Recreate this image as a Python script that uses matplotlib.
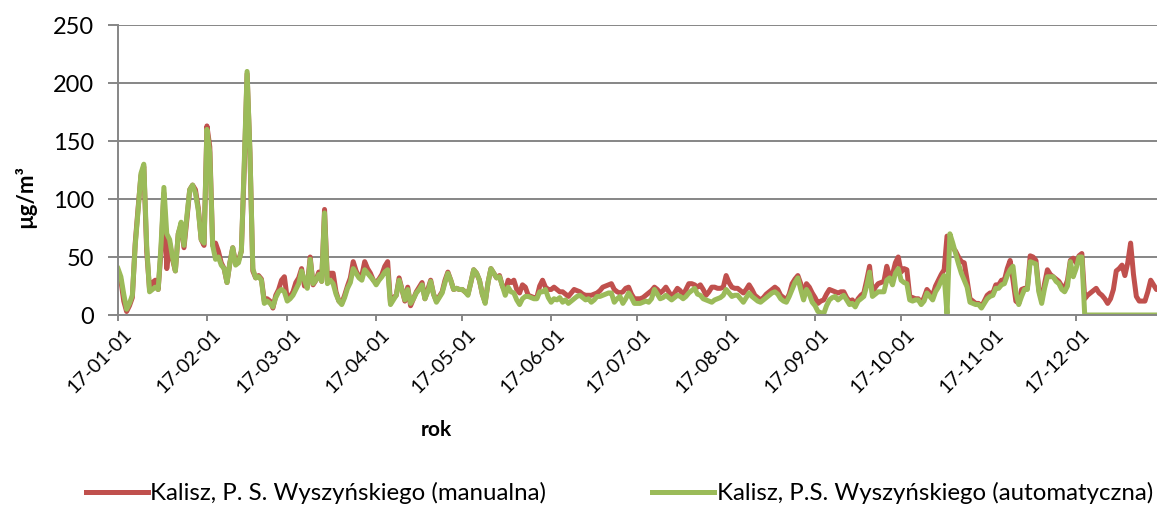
import numpy as np
import pandas as pd
import matplotlib
matplotlib.use("Agg")
import matplotlib.pyplot as plt
import matplotlib.dates as mdates
import matplotlib.transforms as mtransforms

plt.rcParams['font.family'] = ['Lato', 'DejaVu Sans']

# daily values, 2017
manualna = [
    # Jan
    38, 30, 12, 3, 8, 15, 62, 92, 120, 128, 55, 22, 28, 30, 22, 55, 105, 40, 62, 48,
    38, 70, 78, 58, 82, 108, 112, 108, 92, 65, 60,
    # Feb
    163, 145, 60, 62, 55, 45, 40, 28, 45, 58, 45, 47, 55, 125, 208, 140, 38, 32, 34, 31,
    12, 14, 12, 6, 17, 22, 30, 33,
    # Mar
    14, 16, 20, 28, 32, 40, 25, 25, 50, 26, 30, 37, 29, 91, 30, 36, 36, 20, 12, 10,
    17, 25, 32, 46, 38, 33, 34, 46, 40, 36, 30,
    # Apr
    28, 31, 35, 42, 46, 10, 15, 17, 32, 22, 12, 24, 8, 14, 20, 24, 28, 14, 22, 30,
    18, 12, 16, 20, 30, 37, 30, 22, 23, 22,
    # May
    22, 20, 18, 28, 39, 36, 30, 18, 11, 28, 40, 36, 32, 34, 25, 20, 30, 28, 30, 22,
    19, 26, 24, 17, 16, 15, 15, 25, 30, 24, 22,
    # Jun
    22, 24, 22, 20, 20, 18, 16, 19, 22, 21, 20, 18, 17, 17, 17, 18, 19, 21, 24, 25,
    26, 27, 22, 20, 19, 20, 23, 24, 18, 14,
    # Jul
    14, 14, 15, 17, 19, 21, 24, 22, 19, 21, 24, 20, 16, 19, 23, 21, 17, 22, 27, 27,
    26, 24, 26, 22, 17, 20, 24, 24, 23, 23, 24,
    # Aug
    34, 28, 24, 23, 23, 21, 19, 22, 26, 22, 17, 15, 13, 15, 18, 20, 22, 24, 22, 17,
    15, 13, 18, 27, 31, 34, 27, 17, 27, 24, 19,
    # Sep
    15, 10, 12, 13, 18, 22, 21, 20, 19, 20, 20, 15, 12, 13, 9, 14, 17, 19, 30, 42,
    19, 24, 27, 28, 29, 42, 33, 35, 45, 50,
    # Oct
    37, 40, 39, 16, 15, 14, 14, 10, 15, 22, 19, 17, 25, 30, 35, 39, 68, 66, 58, 55,
    50, 46, 45, 30, 14, 12, 10, 10, 7, 12, 17,
    # Nov
    19, 19, 26, 26, 30, 30, 40, 47, 30, 12, 10, 22, 23, 23, 51, 50, 47, 22, 13, 27,
    39, 35, 33, 31, 29, 25, 23, 30, 47, 49,
    # Dec
    45, 51, 53, 14, 17, 19, 21, 23, 19, 17, 14, 10, 14, 22, 38, 40, 43, 34, 45, 62,
    35, 16, 12, 12, 12, 20, 30, 26, 22, 22, 22,
]

automatyczna = [
    # Jan
    40, 33, 18, 5, 10, 17, 60, 90, 122, 130, 60, 20, 22, 24, 22, 60, 110, 70, 65, 50,
    38, 70, 80, 60, 85, 108, 112, 105, 90, 65, 62,
    # Feb
    160, 140, 60, 48, 50, 43, 40, 28, 45, 58, 43, 45, 55, 130, 210, 140, 40, 32, 33, 30,
    10, 12, 10, 7, 15, 20, 22, 20,
    # Mar
    12, 14, 17, 22, 27, 38, 30, 23, 48, 27, 30, 35, 29, 88, 27, 30, 27, 18, 12, 9,
    15, 23, 28, 40, 36, 32, 30, 39, 36, 33, 30,
    # Apr
    26, 30, 33, 37, 39, 9, 13, 17, 30, 22, 13, 22, 10, 14, 19, 22, 26, 14, 20, 29,
    18, 11, 15, 19, 28, 36, 30, 22, 23, 22,
    # May
    22, 20, 17, 28, 39, 36, 30, 18, 10, 28, 40, 36, 32, 33, 25, 17, 24, 20, 19, 13,
    9, 14, 16, 16, 15, 14, 14, 20, 20, 22, 15,
    # Jun
    11, 14, 13, 15, 11, 13, 10, 12, 14, 16, 17, 15, 13, 14, 11, 13, 16, 16, 17, 18,
    19, 19, 11, 14, 16, 10, 14, 19, 15, 10,
    # Jul
    10, 10, 11, 12, 11, 14, 22, 18, 14, 15, 17, 15, 13, 15, 17, 16, 14, 16, 19, 21,
    23, 18, 17, 14, 13, 12, 11, 13, 14, 15, 17,
    # Aug
    22, 19, 16, 17, 17, 14, 11, 15, 19, 16, 14, 12, 11, 13, 15, 17, 19, 20, 18, 14,
    12, 11, 16, 22, 28, 32, 22, 13, 22, 18, 11,
    # Sep
    8, 3, 2, 1, 8, 13, 15, 16, 13, 15, 17, 13, 9, 10, 7, 12, 14, 16, 25, 37,
    16, 18, 20, 20, 20, 30, 32, 26, 36, 40,
    # Oct
    30, 28, 27, 13, 12, 13, 13, 9, 12, 19, 16, 13, 20, 24, 30, 34, 1, 70, 62, 53,
    44, 36, 30, 24, 11, 10, 9, 9, 6, 10, 14,
    # Nov
    16, 17, 23, 23, 26, 27, 34, 39, 42, 20, 9, 16, 22, 22, 46, 45, 44, 20, 10, 23,
    33, 33, 33, 29, 27, 22, 20, 25, 46, 33,
    # Dec
    40, 50, 50, 0, 0, 0, 0, 0, 0, 0, 0, 0, 0, 0, 0, 0, 0, 0, 0, 0,
    0, 0, 0, 0, 0, 0, 0, 0, 0, 0, 0,
]

dates = pd.date_range("2017-01-01", periods=len(manualna), freq="D")
month_starts = pd.date_range("2017-01-01", "2017-12-01", freq="MS")

RED = "#C0504D"
GREEN = "#9BBB59"
GRID = "#868686"

W, H = 1157, 508
fig = plt.figure(figsize=(W / 100, H / 100), dpi=100)
ax = fig.add_axes([118 / W, 1 - 315 / H, 1 - 118 / W, 290 / H])

ax.plot(dates, manualna, color=RED, lw=3.6, solid_joinstyle="round",
        label="Kalisz, P. S. Wyszyńskiego (manualna)")
ax.plot(dates, automatyczna, color=GREEN, lw=3.6, solid_joinstyle="round",
        label="Kalisz, P.S. Wyszyńskiego (automatyczna)")

ax.set_ylim(0, 250)
ax.set_yticks(range(0, 251, 50))
ax.set_xlim(dates[0], dates[0] + pd.Timedelta(days=362.2))
ax.set_xticks(month_starts)
ax.xaxis.set_major_formatter(mdates.DateFormatter("%y-%m-%d"))

ax.grid(axis="y", color=GRID, lw=1.4)
ax.set_axisbelow(True)
for s in ["top", "right"]:
    ax.spines[s].set_visible(False)
for s in ["left", "bottom"]:
    ax.spines[s].set_color(GRID)
    ax.spines[s].set_linewidth(1.4)

ax.tick_params(axis="y", length=7, width=1.4, color=GRID, labelsize=17, pad=10)
ax.tick_params(axis="x", length=4.5, width=1.4, color=GRID, labelsize=14, pad=3)
shift = mtransforms.ScaledTranslation(5 / 100, 0, fig.dpi_scale_trans)
for lab in ax.get_xticklabels():
    lab.set_rotation(45)
    lab.set_ha("right")
    lab.set_rotation_mode("anchor")
    lab.set_transform(lab.get_transform() + shift)

ax.set_ylabel("µg/m³", fontsize=16, fontweight="bold")
ax.yaxis.set_label_coords((25 - 118) / 1039, (315 - 197) / 290)
ax.yaxis.label.set_va("center")
ax.set_xlabel("rok", fontsize=15, fontweight="bold")
ax.xaxis.set_label_coords((436 - 118) / 1039, (315 - 430) / 290)
ax.xaxis.label.set_va("center")

fig.legend(loc="center left", bbox_to_anchor=(86 / W, 1 - 493 / H), ncol=2,
           frameon=False, fontsize=17.3, handlelength=2.58, handletextpad=0.1,
           columnspacing=4.4, borderpad=0, borderaxespad=0)

fig.savefig("out.png", dpi=100)
